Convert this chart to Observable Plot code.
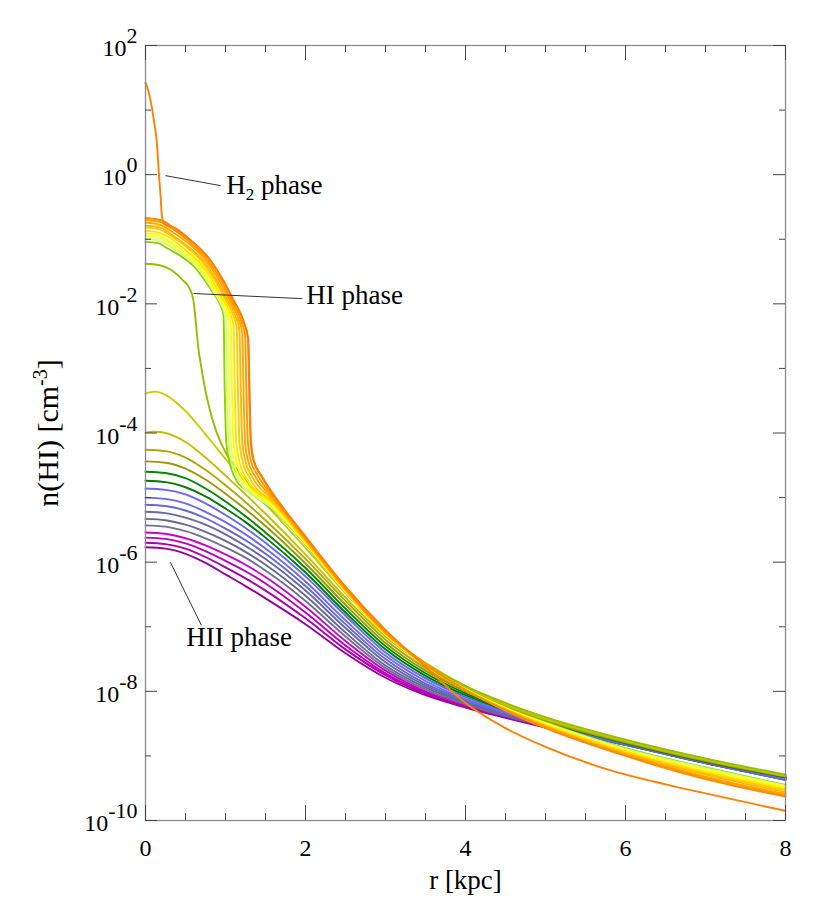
<!DOCTYPE html>
<html><head><meta charset="utf-8">
<script src="https://cdn.jsdelivr.net/npm/d3@7"></script>
<script src="https://cdn.jsdelivr.net/npm/@observablehq/plot@0.6"></script>
<style>body{margin:0;background:#fff}#chart{width:830px;height:913px}</style>
</head><body><div id="chart"></div>
<script>
// ---- data: [r (kpc), log10 n(HI)] ----
const h2Curve = [[0,1.42],[0.015,1.38],[0.035,1.30],[0.06,1.17],[0.085,1.0],[0.11,0.8],[0.14,0.52],[0.165,0.06],[0.19,-0.36],[0.205,-0.64],[0.24,-0.77],[0.36,-0.82],[0.56,-1.01],[0.79,-1.29],[0.96,-1.61],[1.1,-1.94],[1.23,-2.28],[1.285,-2.55],[1.30,-3.3],[1.32,-4.15],[1.355,-4.43],[1.45,-4.66],[1.6,-4.95],[2.0,-5.6],[2.5,-6.38],[3.0,-7.05],[3.5,-7.62],[4.0,-8.18],[4.5,-8.57],[5.0,-8.86],[5.7,-9.18],[6.5,-9.44],[7.0,-9.58],[8.0,-9.85]];

const hiCurves = [
 [[0,-0.67],[0.205,-0.71],[0.358,-0.83],[0.563,-1.02],[0.794,-1.30],[0.96,-1.62],[1.10,-1.95],[1.229,-2.29],[1.28,-2.53],[1.295,-3.3],[1.315,-4.15],[1.35,-4.42],[1.44,-4.65],[1.6,-4.97],[2.0,-5.62],[2.5,-6.40],[3.0,-7.08],[3.5,-7.58],[4.0,-7.98],[4.5,-8.30],[5.0,-8.57],[6.0,-9.00],[7.0,-9.36],[8.0,-9.63]],
 [[0,-0.70],[0.199,-0.74],[0.349,-0.85],[0.548,-1.04],[0.772,-1.31],[0.934,-1.61],[1.071,-1.94],[1.195,-2.26],[1.245,-2.49],[1.26,-3.3],[1.28,-4.15],[1.315,-4.42],[1.405,-4.66],[1.6,-4.99],[2.0,-5.63],[2.5,-6.41],[3.0,-7.08],[3.5,-7.58],[4.0,-7.98],[4.5,-8.29],[5.0,-8.56],[6.0,-8.99],[7.0,-9.34],[8.0,-9.61]],
 [[0,-0.74],[0.194,-0.78],[0.339,-0.89],[0.532,-1.06],[0.750,-1.32],[0.908,-1.61],[1.041,-1.92],[1.162,-2.23],[1.21,-2.45],[1.225,-3.3],[1.245,-4.15],[1.28,-4.42],[1.37,-4.67],[1.6,-5.02],[2.0,-5.64],[2.5,-6.42],[3.0,-7.09],[3.5,-7.58],[4.0,-7.98],[4.5,-8.29],[5.0,-8.55],[6.0,-8.98],[7.0,-9.32],[8.0,-9.59]],
 [[0,-0.79],[0.188,-0.82],[0.329,-0.93],[0.517,-1.10],[0.729,-1.34],[0.881,-1.62],[1.011,-1.91],[1.128,-2.20],[1.175,-2.41],[1.19,-3.3],[1.21,-4.15],[1.245,-4.42],[1.335,-4.68],[1.6,-5.05],[2.0,-5.66],[2.5,-6.43],[3.0,-7.10],[3.5,-7.59],[4.0,-7.98],[4.5,-8.28],[5.0,-8.54],[6.0,-8.96],[7.0,-9.29],[8.0,-9.56]],
 [[0,-0.82],[0.182,-0.85],[0.319,-0.95],[0.502,-1.11],[0.707,-1.35],[0.855,-1.61],[0.980,-1.89],[1.094,-2.17],[1.14,-2.37],[1.155,-3.3],[1.175,-4.15],[1.21,-4.42],[1.30,-4.69],[1.6,-5.08],[2.0,-5.67],[2.5,-6.44],[3.0,-7.10],[3.5,-7.59],[4.0,-7.98],[4.5,-8.28],[5.0,-8.53],[6.0,-8.95],[7.0,-9.27],[8.0,-9.53]],
 [[0,-0.87],[0.176,-0.90],[0.308,-0.98],[0.484,-1.15],[0.682,-1.37],[0.825,-1.61],[0.946,-1.88],[1.056,-2.14],[1.10,-2.33],[1.115,-3.3],[1.135,-4.15],[1.17,-4.42],[1.26,-4.70],[1.6,-5.10],[2.0,-5.68],[2.5,-6.44],[3.0,-7.11],[3.5,-7.59],[4.0,-7.98],[4.5,-8.27],[5.0,-8.52],[6.0,-8.93],[7.0,-9.25],[8.0,-9.51]],
 [[0,-0.91],[0.170,-0.94],[0.298,-1.03],[0.469,-1.17],[0.660,-1.38],[0.799,-1.61],[0.916,-1.86],[1.022,-2.11],[1.065,-2.29],[1.08,-3.3],[1.10,-4.15],[1.135,-4.42],[1.225,-4.71],[1.6,-5.13],[2.0,-5.69],[2.5,-6.45],[3.0,-7.11],[3.5,-7.59],[4.0,-7.97],[4.5,-8.27],[5.0,-8.51],[6.0,-8.92],[7.0,-9.23],[8.0,-9.49]],
 [[0,-0.95],[0.165,-0.98],[0.288,-1.06],[0.453,-1.20],[0.639,-1.39],[0.773,-1.61],[0.886,-1.85],[0.989,-2.08],[1.03,-2.25],[1.045,-3.3],[1.065,-4.15],[1.10,-4.42],[1.19,-4.72],[1.6,-5.15],[2.0,-5.70],[2.5,-6.46],[3.0,-7.11],[3.5,-7.60],[4.0,-7.97],[4.5,-8.26],[5.0,-8.50],[6.0,-8.91],[7.0,-9.21],[8.0,-9.47]],
 [[0,-0.99],[0.16,-1.02],[0.28,-1.09],[0.44,-1.22],[0.62,-1.40],[0.75,-1.61],[0.86,-1.83],[0.96,-2.05],[1.00,-2.21],[1.015,-3.3],[1.035,-4.15],[1.07,-4.42],[1.16,-4.73],[1.6,-5.18],[2.0,-5.71],[2.5,-6.46],[3.0,-7.12],[3.5,-7.60],[4.0,-7.97],[4.5,-8.26],[5.0,-8.49],[6.0,-8.89],[7.0,-9.19],[8.0,-9.46]],
 [[0,-1.04],[0.156,-1.06],[0.273,-1.14],[0.429,-1.25],[0.605,-1.42],[0.731,-1.62],[0.839,-1.82],[0.936,-2.02],[0.975,-2.17],[0.99,-3.3],[1.01,-4.15],[1.045,-4.42],[1.135,-4.73],[1.3,-4.92],[1.6,-5.20],[2.0,-5.72],[2.5,-6.47],[3.0,-7.12],[3.5,-7.60],[4.0,-7.97],[4.5,-8.25],[5.0,-8.48],[6.0,-8.88],[7.0,-9.18],[8.0,-9.45]]
];
const hiColors = ["#ff8c00","#ff9a00","#ffa800","#ffb800","#ffcc00","#ffe400","#ffff00","#eeff55","#ccff77","#99cc00"];

const dropCurve = [[0,-1.38],[0.2,-1.41],[0.35,-1.5],[0.47,-1.64],[0.55,-1.76],[0.6,-1.95],[0.63,-2.3],[0.66,-2.68],[0.7,-3.0],[0.75,-3.35],[0.8,-3.62],[0.87,-3.92],[0.98,-4.25],[1.2,-4.65],[1.4,-4.93],[1.7,-5.3],[2.0,-5.72],[2.5,-6.45],[3.0,-7.1],[3.5,-7.57],[4.0,-7.92],[4.5,-8.18],[5.0,-8.4],[6.0,-8.75],[7.0,-9.04],[8.0,-9.29]];
const dropColor = "#99bb00";

const hiiR = [0,0.25,0.5,0.75,1,1.25,1.5,2,2.5,3,3.5,4,4.5,5,6,7,8];
const hiiCurves = [
 [-3.39,-3.41,-3.66,-4.02,-4.40,-4.76,-5.10,-5.78,-6.48,-7.10,-7.56,-7.92,-8.19,-8.41,-8.76,-9.05,-9.30],
 [-3.99,-4.00,-4.14,-4.38,-4.66,-4.95,-5.25,-5.88,-6.55,-7.15,-7.60,-7.95,-8.21,-8.43,-8.77,-9.06,-9.31],
 [-4.26,-4.28,-4.38,-4.57,-4.81,-5.07,-5.35,-5.95,-6.60,-7.20,-7.64,-7.98,-8.23,-8.44,-8.78,-9.07,-9.31],
 [-4.44,-4.46,-4.55,-4.72,-4.94,-5.18,-5.44,-6.02,-6.66,-7.25,-7.68,-8.00,-8.25,-8.46,-8.79,-9.08,-9.32],
 [-4.60,-4.62,-4.70,-4.86,-5.06,-5.29,-5.54,-6.09,-6.72,-7.30,-7.72,-8.03,-8.27,-8.47,-8.80,-9.08,-9.32],
 [-4.74,-4.76,-4.84,-4.98,-5.17,-5.38,-5.62,-6.16,-6.78,-7.35,-7.76,-8.06,-8.29,-8.48,-8.80,-9.09,-9.33],
 [-4.86,-4.88,-4.95,-5.09,-5.27,-5.47,-5.70,-6.22,-6.83,-7.40,-7.80,-8.09,-8.31,-8.50,-8.81,-9.10,-9.35],
 [-5.00,-5.02,-5.09,-5.22,-5.38,-5.57,-5.79,-6.30,-6.90,-7.45,-7.84,-8.12,-8.33,-8.51,-8.82,-9.10,-9.36],
 [-5.11,-5.13,-5.20,-5.32,-5.48,-5.66,-5.87,-6.37,-6.96,-7.50,-7.88,-8.14,-8.34,-8.52,-8.82,-9.11,-9.37],
 [-5.22,-5.24,-5.31,-5.42,-5.57,-5.75,-5.95,-6.44,-7.02,-7.55,-7.91,-8.16,-8.36,-8.53,-8.83,-9.11,-9.37],
 [-5.33,-5.35,-5.42,-5.53,-5.67,-5.84,-6.04,-6.52,-7.09,-7.60,-7.94,-8.18,-8.37,-8.54,-8.83,-9.11,-9.37],
 [-5.43,-5.45,-5.52,-5.63,-5.77,-5.93,-6.13,-6.60,-7.15,-7.64,-7.97,-8.20,-8.38,-8.54,-8.83,-9.11,-9.37],
 [-5.54,-5.56,-5.63,-5.74,-5.88,-6.04,-6.23,-6.69,-7.22,-7.68,-8.00,-8.21,-8.38,-8.54,-8.82,-9.09,-9.33],
 [-5.62,-5.64,-5.71,-5.83,-5.98,-6.14,-6.33,-6.78,-7.29,-7.72,-8.02,-8.22,-8.39,-8.54,-8.82,-9.09,-9.33],
 [-5.70,-5.72,-5.79,-5.92,-6.08,-6.25,-6.44,-6.87,-7.35,-7.75,-8.04,-8.24,-8.40,-8.55,-8.82,-9.10,-9.34],
 [-5.77,-5.79,-5.87,-6.01,-6.19,-6.37,-6.56,-6.96,-7.41,-7.79,-8.06,-8.25,-8.41,-8.56,-8.83,-9.11,-9.35]
];
const hiiColors = ["#cccc00","#c0c000","#aaaa00","#999900","#008800","#007a00","#6666ff","#6a6af0","#6666cc","#6666aa","#666699","#707090","#cc00cc","#bb00bb","#aa00aa","#990099"];
const h2Color = "#ff8000";

const xMajorTicks = [0,2,4,6,8];
const xMinorTicks = [0.5,1,1.5,2.5,3,3.5,4.5,5,5.5,6.5,7,7.5];
const yLabelExps = [2,0,-2,-4,-6,-8,-10];
const yMinorExps = [1,-1,-3,-5,-7,-9];

const annText = ["H2 phase","HI phase","HII phase"];
const annX = [1.01, 2.01, 0.51];
const annE = [-0.17, -1.865, -7.16];
const leaders = [
  {x1:0.25, e1:-0.015, x2:0.94, e2:-0.17},
  {x1:0.6, e1:-1.84, x2:1.96, e2:-1.92},
  {x1:0.31, e1:-6.0, x2:0.7, e2:-6.98}
];

// ---- build table ----
const rows = [];
hiiCurves.slice().reverse().forEach((c, k) => {
  const i = hiiCurves.length - 1 - k;
  c.forEach((e, m) => rows.push({id: "hii" + i, r: hiiR[m], n: 10 ** e, color: hiiColors[i]}));
  if (i === 0) rows.push({id: "hii0", r: 0.12, n: 10 ** -3.36, color: hiiColors[0]});
  if (i === 1) rows.push({id: "hii1", r: 0.1, n: 10 ** -3.98, color: hiiColors[1]});
});
dropCurve.forEach(([r, e]) => rows.push({id: "drop", r, n: 10 ** e, color: dropColor}));
hiCurves.slice().reverse().forEach((c, k) => {
  const j = hiCurves.length - 1 - k;
  c.forEach(([r, e]) => rows.push({id: "hi" + j, r, n: 10 ** e, color: hiColors[j]}));
});
h2Curve.forEach(([r, e]) => rows.push({id: "h2", r, n: 10 ** e, color: h2Color}));
const byId = d3.group(rows, d => d.id);
const table = [];
for (const [, v] of byId) table.push(...v.sort((a, b) => a.r - b.r));

const W = 830, H = 913, mL = 145, mR = 45, mT = 45, mB = 93;
const pw = W - mL - mR, ph = H - mT - mB;
const font = "'Liberation Serif', 'Times New Roman', serif";

const svg = Plot.plot({
  width: W, height: H,
  marginLeft: mL, marginRight: mR, marginTop: mT, marginBottom: mB,
  style: {fontFamily: font, background: "#fff", color: "#000", overflow: "visible"},
  x: {domain: [0, 8], axis: null},
  y: {type: "log", domain: [1e-10, 1e2], axis: null},
  color: {type: "identity"},
  marks: [
    Plot.line(table, {x: "r", y: "n", z: "id", stroke: "color", strokeWidth: 1.9, curve: "monotone-x"}),
    Plot.frame({stroke: "#8a8a8a", strokeWidth: 1.3}),
    Plot.tickX(xMajorTicks, {x: d => d, insetTop: ph - 15, stroke: "#444"}),
    Plot.tickX(xMinorTicks, {x: d => d, insetTop: ph - 7, stroke: "#444"}),
    Plot.tickX(xMajorTicks, {x: d => d, insetBottom: ph - 15, stroke: "#444"}),
    Plot.tickX(xMinorTicks, {x: d => d, insetBottom: ph - 7, stroke: "#444"}),
    Plot.tickY(yLabelExps, {y: d => 10 ** d, insetRight: pw - 12, stroke: "#444"}),
    Plot.tickY(yMinorExps, {y: d => 10 ** d, insetRight: pw - 6, stroke: "#444"}),
    Plot.tickY(yLabelExps, {y: d => 10 ** d, insetLeft: pw - 12, stroke: "#444"}),
    Plot.tickY(yMinorExps, {y: d => 10 ** d, insetLeft: pw - 6, stroke: "#444"}),
    Plot.axisX(xMajorTicks, {tickSize: 0, tickPadding: 18, fontSize: 24, fontFamily: font, label: null, tickFormat: d => String(d)}),
    Plot.axisY(yLabelExps.map(e => 10 ** e), {tickSize: 0, tickPadding: 8, fontSize: 24, fontFamily: font, label: null, dy: 3,
      tickFormat: d => "10^" + Math.round(Math.log10(d))}),
    Plot.text(["r [kpc]"], {frameAnchor: "bottom", lineAnchor: "middle", textAnchor: "middle", dy: 60, fontSize: 27, fontFamily: font, text: d => d}),
    Plot.text(["n(HI) [cm^-3]"], {frameAnchor: "left", textAnchor: "middle", lineAnchor: "middle", dx: -97, rotate: -90, fontSize: 30, fontFamily: font, text: d => d, className: "ytitle"}),
    Plot.link(leaders, {x1: "x1", y1: d => 10 ** d.e1, x2: "x2", y2: d => 10 ** d.e2, stroke: "#333", strokeWidth: 1}),
    Plot.text(annText, {x: (d, i) => annX[i], y: (d, i) => 10 ** annE[i], text: d => d, textAnchor: "start", fontSize: 27, fontFamily: font, className: "ann"})
  ]
});

const s = d3.select(svg);
s.selectAll("g[aria-label='y-axis tick label'] text").each(function () {
  const t = this.textContent;
  const [b, ex] = t.split("^");
  const el = d3.select(this);
  el.text(b);
  el.append("tspan").attr("dy", -13).attr("font-size", 22).text(ex);
});
s.selectAll(".ytitle text").each(function () {
  const el = d3.select(this);
  el.text("n(HI) [cm");
  el.append("tspan").attr("dy", -11).attr("font-size", 20).text("-3");
  el.append("tspan").attr("dy", 11).attr("font-size", 30).text("]");
});
s.selectAll(".ann text").each(function () {
  if (this.textContent === "H2 phase") {
    const el = d3.select(this);
    el.text("H");
    el.append("tspan").attr("dy", 6).attr("font-size", 17).text("2");
    el.append("tspan").attr("dy", -6).attr("font-size", 27).text(" phase");
  }
});
document.getElementById("chart").appendChild(svg);
</script>
</body></html>
